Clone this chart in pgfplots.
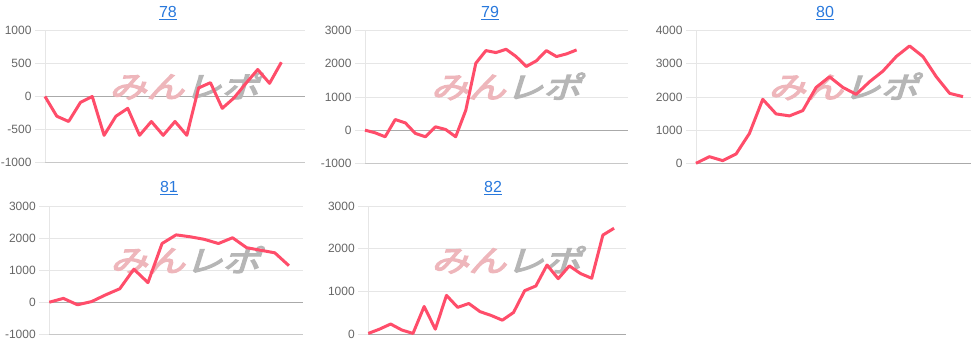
\documentclass[border=0pt]{standalone}
\usepackage{pgfplots}
\pgfplotsset{compat=1.18}
\usepackage{fontspec}
\setmainfont{Liberation Sans}
\newfontfamily\jp{Noto Sans CJK JP}[FakeSlant=0.25, FakeBold=4]
\definecolor{lineR}{RGB}{255,77,106}
\definecolor{gridc}{RGB}{230,230,230}
\definecolor{zeroc}{RGB}{170,170,170}
\definecolor{botc}{RGB}{200,200,200}
\definecolor{tickc}{RGB}{102,102,102}
\definecolor{titc}{RGB}{40,120,220}
\definecolor{wmpink}{RGB}{238,182,187}
\definecolor{wmgray}{RGB}{182,182,182}
\pgfplotsset{panel/.style={
  scale only axis, anchor=south west,
  xmin=0, xtick=\empty,
  axis x line=bottom, axis y line=left,
  x axis line style={-, draw=botc},
  y axis line style={-, draw=gridc},
  ymajorgrids, grid style={gridc, line width=0.8pt},
  tick align=outside, major tick length=10pt,
  tick style={gridc, line width=0.8pt},
  yticklabel style={font=\fontsize{12}{12}\selectfont, text=tickc},
  /pgf/number format/assume math mode=true,
  /pgf/number format/1000 sep={},
  extra y ticks={0}, extra y tick labels={},
  extra y tick style={grid style={zeroc, line width=0.8pt}},
  clip=false,
},
dline/.style={lineR, line width=3pt, line join=round, no marks}}
\newcommand{\wm}{\node[font=\jp\fontsize{30}{30}\selectfont, xscale=1.25, inner sep=0pt] at (rel axis cs:0.535,0.58) {\textcolor{wmpink}{みん}\textcolor{wmgray}{レポ}};}
\begin{document}
\begin{tikzpicture}
\useasboundingbox (0pt,0pt) rectangle (972pt,347pt);
% 78
\begin{axis}[panel, at={(45pt,184.7pt)}, width=260pt, height=131.6pt,
  xmax=22, ymin=-1000, ymax=1000, ytick={-1000,-500,0,500,1000}]
\wm
\addplot[dline] coordinates {(0,0)(1,-300)(2,-380)(3,-90)(4,0)(5,-590)(6,-300)(7,-180)(8,-590)(9,-380)(10,-590)(11,-380)(12,-590)(13,130)(14,210)(15,-180)(16,-20)(17,200)(18,410)(19,200)(20,520)};
\end{axis}
% 79
\begin{axis}[panel, at={(365pt,183.7pt)}, width=263pt, height=132.6pt,
  xmax=26.1, ymin=-1000, ymax=3000, ytick={-1000,0,1000,2000,3000}]
\wm
\addplot[dline] coordinates {(0,0)(1,-80)(2,-200)(3,320)(4,220)(5,-100)(6,-200)(7,100)(8,20)(9,-200)(10,600)(11,2020)(12,2400)(13,2340)(14,2440)(15,2220)(16,1920)(17,2090)(18,2400)(19,2220)(20,2300)(21,2420)};
\end{axis}
% 80
\begin{axis}[panel, at={(696pt,183.7pt)}, width=275pt, height=132.6pt,
  xmax=20.6, ymin=0, ymax=4000, ytick={0,1000,2000,3000,4000}]
\wm
\addplot[dline] coordinates {(0,0)(1,200)(2,80)(3,280)(4,900)(5,1930)(6,1490)(7,1430)(8,1590)(9,2290)(10,2610)(11,2290)(12,2080)(13,2460)(14,2780)(15,3220)(16,3540)(17,3220)(18,2610)(19,2110)(20,2010)};
\end{axis}
% 81
\begin{axis}[panel, at={(49.3pt,12.7pt)}, width=253.7pt, height=128.3pt,
  xmax=18, ymin=-1000, ymax=3000, ytick={-1000,0,1000,2000,3000}]
\wm
\addplot[dline] coordinates {(0,0)(1,120)(2,-80)(3,20)(4,230)(5,420)(6,1030)(7,610)(8,1830)(9,2100)(10,2040)(11,1960)(12,1830)(13,2010)(14,1700)(15,1620)(16,1540)(17,1140)};
\end{axis}
% 82
\begin{axis}[panel, at={(368.3pt,12.7pt)}, width=257.7pt, height=128.3pt,
  xmax=23.07, ymin=0, ymax=3000, ytick={0,1000,2000,3000}]
\wm
\addplot[dline] coordinates {(0,20)(1,120)(2,240)(3,100)(4,20)(5,650)(6,120)(7,910)(8,630)(9,720)(10,530)(11,440)(12,330)(13,510)(14,1020)(15,1130)(16,1620)(17,1300)(18,1600)(19,1420)(20,1310)(21,2320)(22,2480)};
\end{axis}
\begin{scope}[every node/.style={text=titc, font=\fontsize{16}{16}\selectfont, inner sep=0pt}]
\node at (168pt,334pt) {\underline{78}};
\node at (490pt,334pt) {\underline{79}};
\node at (825pt,334pt) {\underline{80}};
\node at (169pt,159pt) {\underline{81}};
\node at (493pt,159pt) {\underline{82}};
\end{scope}
\end{tikzpicture}
\end{document}
